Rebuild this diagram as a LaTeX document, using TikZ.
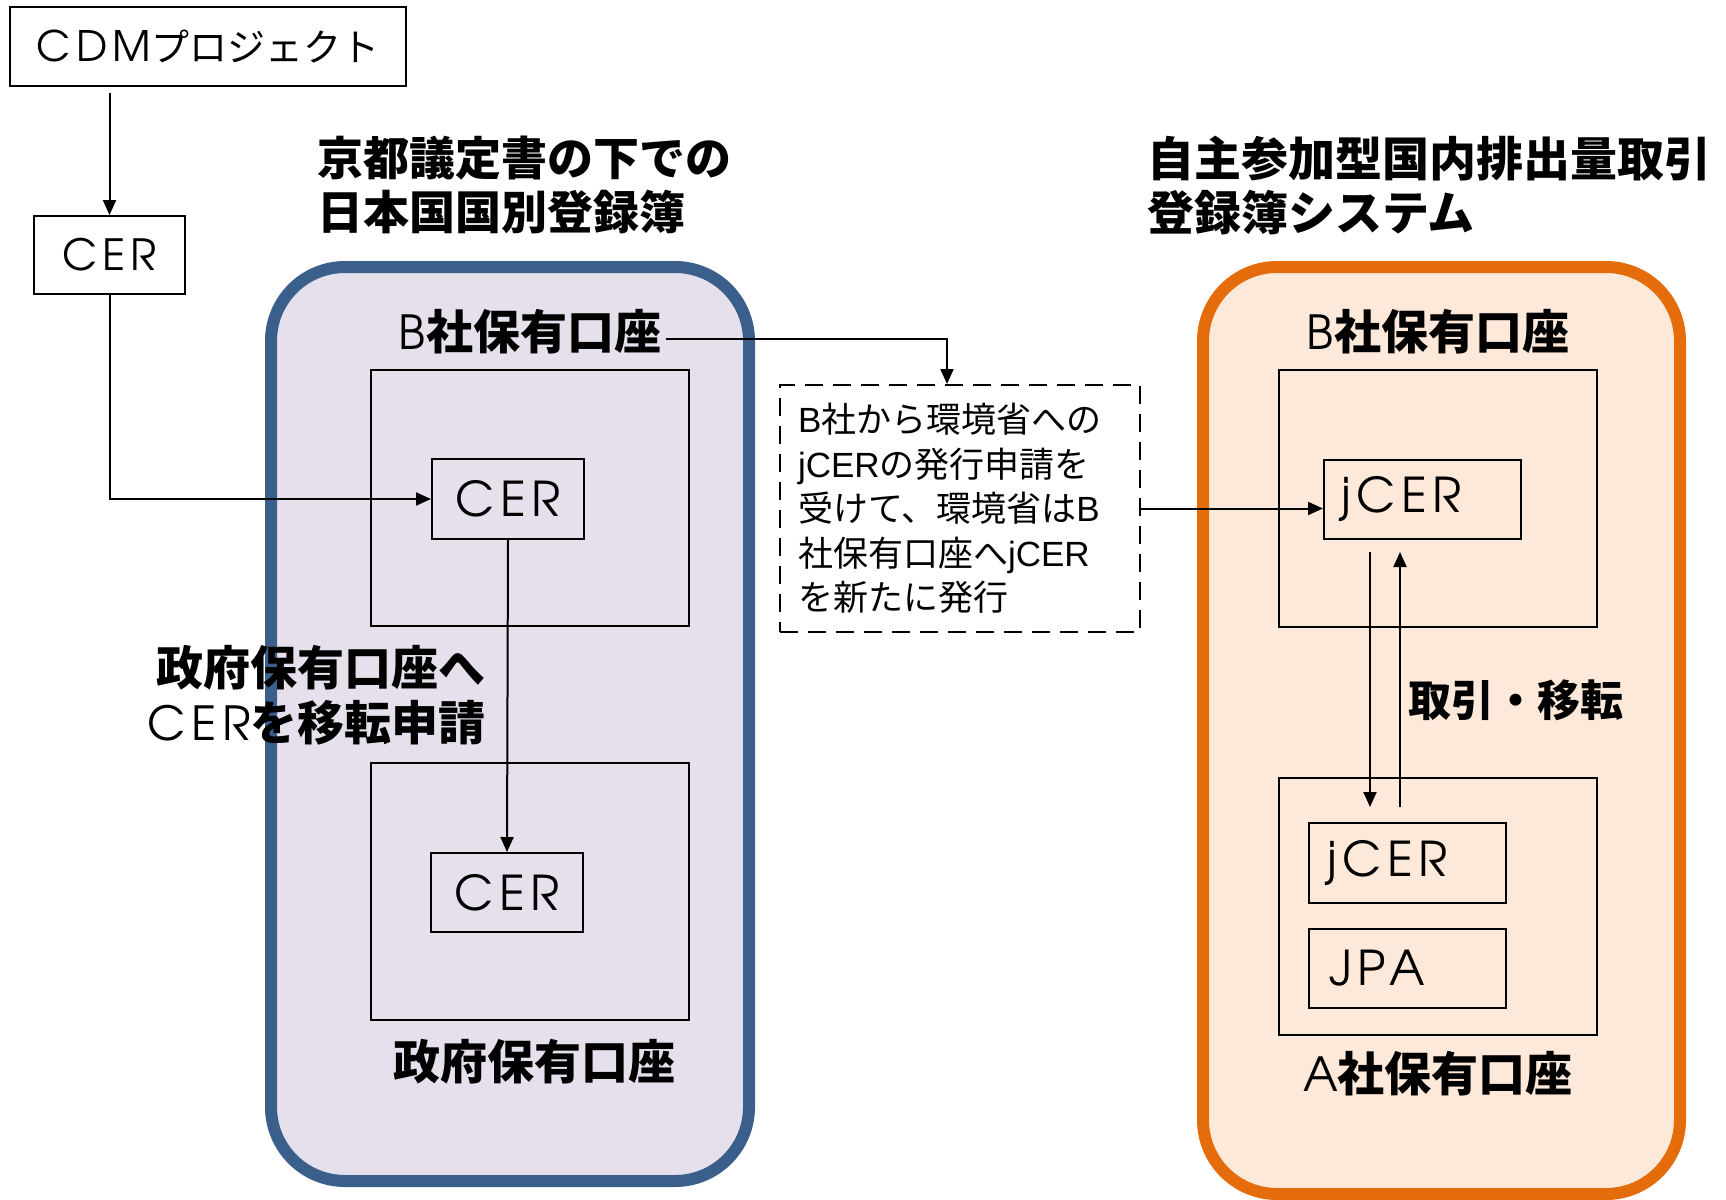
\documentclass[tikz,border=0pt]{standalone}
\usepackage{fontspec}
\setmainfont{Noto Sans CJK JP}
\newfontfamily\geo[LetterSpace=12]{TeX Gyre Adventor}
\newfontfamily\ar{Liberation Sans}
\usetikzlibrary{arrows.meta}
\definecolor{bstroke}{RGB}{58,95,139}
\definecolor{bfill}{RGB}{229,224,236}
\definecolor{ostroke}{RGB}{228,108,10}
\definecolor{ofill}{RGB}{253,233,217}
\tikzset{
  region/.style={rounded corners=37pt, line width=6pt, inner sep=0pt},
  box/.style={draw, line width=1pt, inner sep=0pt},
  acct/.style={draw, line width=1.1pt, inner sep=0pt, minimum width=159pt},
  lbl/.style={inner sep=2pt, font=\fontsize{23.5pt}{27.5pt}\selectfont},
  ttl/.style={inner sep=0pt, align=left, font=\fontsize{23pt}{27pt}\selectfont\bfseries},
  arr/.style={line width=1pt, -{Triangle[length=7.5pt,width=6.5pt]}},
  plain/.style={line width=1pt},
  big/.style={font=\geo\fontsize{24pt}{24pt}\selectfont}
}
\begin{document}
\begin{tikzpicture}[x=0.5pt,y=-0.5pt]
\useasboundingbox (0,0) rectangle (1726,1200);
% regions
\node[region, draw=bstroke, fill=bfill, minimum width=239pt, minimum height=457pt] (reg1) at (510,724) {};
\node[region, draw=ostroke, fill=ofill, minimum width=238.5pt, minimum height=463.5pt] (reg2) at (1441.5,730.5) {};
% titles
\node[ttl, anchor=north west] (t1) at (317,136) {京都議定書の下での\\日本国国別登録簿};
\node[ttl, anchor=north west, font=\fontsize{23.5pt}{27pt}\selectfont\bfseries] (t2) at (1147,136) {自主参加型国内排出量取引\\登録簿システム};
% top-left
\node[box, minimum width=198pt, minimum height=39.5pt] (cdm) at (208,46.5)
  {{\geo\fontsize{21pt}{21pt}\selectfont CDM}{\fontsize{19pt}{19pt}\selectfont プロジェクト}};
\node[box, minimum width=75.5pt, minimum height=39pt, font=\geo\fontsize{21.5pt}{21.5pt}\selectfont] (cer0) at (109.5,255) {CER};
% left region contents
\node[lbl] (bBl) at (530,332) {{\geo B}\kern0.5pt{\bfseries 社保有口座}};
\node[acct, minimum height=128pt] (accB) at (530,498) {};
\node[box, big, minimum width=76pt, minimum height=40pt] (cerB) at (508,499) {CER};
\node[acct, minimum height=128.5pt] (accG) at (530,891.5) {};
\node[box, big, minimum width=76pt, minimum height=39.5pt] (cerG) at (507,892.5) {CER};
\node[lbl] (gl) at (534,1062) {\bfseries 政府保有口座};
% note
\node[draw, dash pattern=on 9pt off 5pt, line width=1pt, minimum width=180pt, minimum height=123.5pt,
      inner xsep=9pt, text width=162pt, align=left,
      font=\fontsize{17.5pt}{22.25pt}\selectfont] (note) at (960,508.5)
  {{\ar B}社から環境省への\\{\ar jCER}の発行申請を\\受けて、環境省は{\ar B}\\社保有口座へ{\ar jCER}\\を新たに発行};
% right region contents
\node[lbl] (bBr) at (1438,332) {{\geo B}\kern0.5pt{\bfseries 社保有口座}};
\node[acct, minimum height=128.5pt] (accBo) at (1438,498.5) {};
\node[box, big, minimum height=39.5pt, inner xsep=8.5pt, text width=81.5pt, align=left] (jcerB) at (1422.5,499.5) {jCER};
\node[acct, minimum height=128.5pt] (accA) at (1438,906.5) {};
\node[box, big, minimum height=40pt, inner xsep=9pt, text width=80.5pt, align=left] (jcerA) at (1407.5,863) {jCER};
\node[box, big, minimum height=39.5pt, inner xsep=10pt, text width=78.5pt, align=left] (jpa) at (1407.5,968.5) {JPA};
\node[lbl] (al) at (1438,1074) {{\geo A}{\bfseries 社保有口座}};
\node[lbl, anchor=west, font=\fontsize{21.5pt}{21.5pt}\selectfont\bfseries] (tr) at (1404,700) {取引・移転};
% connectors left
\draw[arr, shorten <=3pt] (cer0.north |- cdm.south) -- (cer0.north);
\draw[arr] (cer0.south) |- (cerB.west);
\draw[arr] (cerB.south) -- (cerG.north);
\draw[arr] ([yshift=-3.5pt]bBl.east) -| ([xshift=-6.5pt]note.north);
\draw[arr] (note.east) -- (note.east -| jcerB.west);
% trade arrows
\coordinate (d1) at (1370,552);
\coordinate (d2) at (1370,807);
\coordinate (u1) at (1400,807);
\coordinate (u2) at (1400,552);
\draw[arr] (d1) -- (d2);
\draw[arr] (u1) -- (u2);
% transfer label (over region border)
\node[lbl, anchor=east, align=right] (tl) at (490,695.5)
  {{\bfseries 政府保有口座へ}\\{\geo CER}{\bfseries を移転申請}};
\end{tikzpicture}
\end{document}
